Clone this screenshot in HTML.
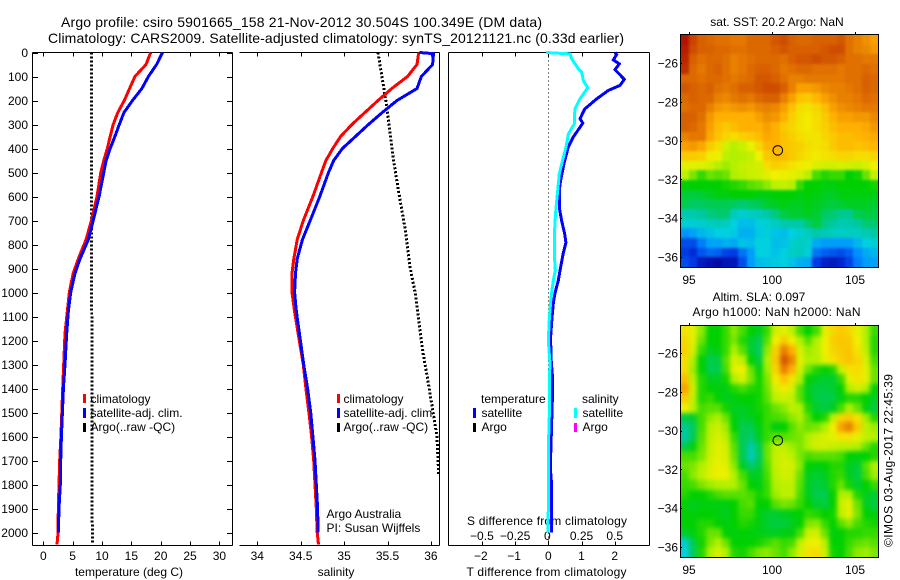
<!DOCTYPE html>
<html>
<head>
<meta charset="utf-8">
<title>Argo profile</title>
<style>
html,body{margin:0;padding:0;background:#fff;}
svg{display:block;font-family:"Liberation Sans",sans-serif;font-size:12px;fill:#000;}
</style>
</head>
<body>
<svg id="chart" width="900" height="580" viewBox="0 0 900 580" xmlns="http://www.w3.org/2000/svg">
<defs>
<filter id="blur-sst" x="-5%" y="-5%" width="110%" height="110%" color-interpolation-filters="sRGB"><feGaussianBlur stdDeviation="1.2"/></filter>
<filter id="blur-sla" x="-5%" y="-5%" width="110%" height="110%" color-interpolation-filters="sRGB"><feGaussianBlur stdDeviation="2.5"/></filter>
<clipPath id="clip-sst"><rect x="681" y="35" width="197" height="232"/></clipPath>
<clipPath id="clip-sla"><rect x="681" y="326" width="197" height="231"/></clipPath>
</defs>
<rect x="0" y="0" width="900" height="580" fill="#fff"/>
<text x="61" y="27" font-size="14" textLength="481">Argo profile: csiro 5901665_158 21-Nov-2012 30.504S 100.349E (DM data)</text>
<text x="48" y="43" font-size="14" textLength="576">Climatology: CARS2009. Satellite-adjusted climatology: synTS_20121121.nc (0.33d earlier)</text>
<text x="129" y="576" text-anchor="middle">temperature (deg C)</text>
<text x="336" y="576" text-anchor="middle">salinity</text>
<text x="466.5" y="576" textLength="160">T difference from climatology</text>
<text x="467" y="525" textLength="160">S difference from climatology</text>
<text x="326.5" y="518">Argo Australia</text>
<text x="326.5" y="532">PI: Susan Wijffels</text>
<text x="777" y="26" text-anchor="middle">sat. SST: 20.2 Argo: NaN</text>
<text x="759" y="301" text-anchor="middle">Altim. SLA: 0.097</text>
<text x="692.5" y="316" textLength="168">Argo h1000: NaN h2000: NaN</text>
<text transform="translate(892.5,547) rotate(-90)" textLength="173">©IMOS 03-Aug-2017 22:45:39</text>
</svg>
<script>
// ---- profile data ----
const depthLevels = [0,50,100,150,200,250,300,350,400,450,500,600,700,780,860,920,1000,1080,1170,1300,1400,1500,1600,1700,1800,1900,2000,2050];
const tempClim = [18.3,17.5,15.6,14.7,13.8,12.7,11.9,11.4,10.9,10.3,9.8,9.15,8.2,7.27,5.97,5.1,4.43,4.09,3.7,3.47,3.3,3.15,3.0,2.8,2.67,2.56,2.52,2.33];
const tempSat = [20.3,19.3,17.9,16.8,15.2,13.75,12.95,12.2,11.4,10.7,10.3,9.5,8.5,7.67,6.25,5.4,4.67,4.26,3.98,3.7,3.42,3.25,3.08,2.97,2.9,2.68,2.55];
const argoTempDepths = [0,500,1000,1500,2050];
const argoTemp = [8.2,8.2,8.25,8.3,8.35];
const salClim = [35.86,35.84,35.73,35.55,35.39,35.24,35.09,34.96,34.87,34.79,34.74,34.64,34.53,34.46,34.42,34.40,34.40,34.43,34.47,34.53,34.56,34.595,34.625,34.65,34.665,34.68,34.69,34.705];
const salSatDepths = [0,5,50,100,150,200,250,300,350,400,450,500,600,700,780,860,920,1000,1080,1170,1300,1400,1500,1600,1700,1800,1900,2000];
const salSat = [35.87,36.03,36.02,35.89,35.84,35.61,35.44,35.28,35.13,34.98,34.88,34.82,34.72,34.61,34.52,34.46,34.44,34.43,34.45,34.485,34.535,34.58,34.615,34.64,34.665,34.68,34.695,34.70];
const argoSalDepths = [0,200,450,575,729,895,1004,1158,1254,1354,1600,1760];
const argoSal = [35.39,35.48,35.57,35.625,35.70,35.76,35.82,35.875,35.91,35.96,36.07,36.09];
const tDiffDepths = [0,8,31,47,72,86,112,137,158,193,235,276,294,353,394,464,533,575,646,700,754,792,837,895,950,1004,1046,1104,1187,1271,1358,1450,1550,1730,1800,2000];
const tDiff = [2.01,2.06,1.96,2.14,2.01,2.11,2.29,2.16,1.81,1.46,1.10,0.955,1.04,0.75,0.60,0.47,0.37,0.33,0.33,0.40,0.49,0.53,0.45,0.37,0.30,0.20,0.15,0.11,0.07,0.08,0.13,0.12,0.10,0.06,0.10,0.10];
const sDiffDepths = [0,6,26,68,82,117,147,193,235,297,339,394,464,506,575,646,712,783,867,908,950,1021,1104,1200,1296,1358,1500,1600,1800,2000];
const sDiff = [-0.017,0.163,0.176,0.226,0.251,0.264,0.297,0.239,0.2,0.196,0.151,0.133,0.101,0.083,0.071,0.058,0.05,0.045,0.048,0.053,0.038,0.02,0.008,0,0.013,0.008,0.008,0.003,0.002,-0.002];

// ---- tick labels ----
const depthTicks = [0,100,200,300,400,500,600,700,800,900,1000,1100,1200,1300,1400,1500,1600,1700,1800,1900,2000];
const tempTicks = [0,5,10,15,20,25,30];
const salTicks = [34,34.5,35,35.5,36];
const tDiffTicks = [-2,-1,0,1,2];
const sDiffTicks = [-0.5,-0.25,0,0.25,0.5];
const latTicks = [-26,-28,-30,-32,-34,-36];
const lonTicks = [95,100,105];
const profileLon = [100.349];
const profileLat = [-30.504];

// ---- map colour scale, index 0..10 ----
const scaleColors = ['#00008c','#0030e0','#0090ff','#00d0e0','#00c8a0','#00d000','#b0f000','#f0f000','#ffb000','#d86000','#a80000'];

// ---- satellite SST map (colour-scale units) ----
const sstRows = [
[9.8,9.3,9,8.9,8.8,8.8,8.7,8.7,8.9,8.9,8.9,9.1,9.2,9,8.9,8.9,9,9,9,9.1,8.8,8.6,8.4,8.2],
[9.7,9.2,9,9,8.9,8.9,8.8,8.8,8.9,8.9,8.9,9,9.1,9,9,9,9,9.1,9.2,9.2,8.8,8.6,8.5,8.3],
[9.6,9,8.8,8.9,8.9,8.8,8.6,8.7,8.8,8.9,8.9,8.9,8.8,9,9.1,9.1,9.2,9.1,9.1,9,8.8,8.8,8.7,8.7],
[9.5,8.9,8.7,8.9,9,8.8,8.6,8.7,8.9,9,9,8.9,8.7,8.8,8.9,8.9,8.8,8.8,8.8,8.7,8.8,8.8,8.9,8.8],
[8.9,8.9,8.8,8.9,8.9,8.8,8.7,8.8,8.9,9.1,9.1,9,8.8,8.6,8.6,8.7,8.7,8.7,8.7,8.7,8.8,8.8,9,8.9],
[9.1,9,8.9,9,8.8,8.7,8.8,9,9,9.1,9.2,9.2,9,8.6,8.2,8.2,8.3,8.5,8.6,8.6,8.7,8.8,9,8.9],
[8.9,9,8.9,8.9,8.6,8.5,8.7,8.8,8.7,8.9,9,9,8.6,8.2,7.7,7.6,7.9,8.2,8.4,8.6,8.6,8.7,8.9,8.8],
[8.8,8.9,8.9,8.6,8.3,8.2,8.3,8.4,8.3,8.5,8.6,8.5,8.2,7.7,7.3,7.2,7.4,7.8,8.2,8.4,8.5,8.6,8.7,8.7],
[9,9,8.8,8.3,8,8,8,8,8,8.2,8.4,8.3,8,7.5,7.2,7.1,7.3,7.6,8,8.2,8.2,8.3,8.3,8.5],
[9,8.9,8.7,8.2,7.8,7.6,7.8,8,8,8,8.2,8,7.6,7.4,7.2,7.1,7.3,7.5,7.8,8,8,8,8.1,8.3],
[8.6,8.7,8.7,8.1,7.7,7.4,7.3,7.5,7.6,7.8,8.1,8,7.7,7.5,7.3,7.2,7.2,7.4,7.6,7.8,7.8,7.9,8,8.1],
[8.2,8.3,8.1,7.6,7.3,6.5,6.1,6.4,6.9,7.4,7.9,8,7.7,7.6,7.5,7.3,7.2,7.3,7.6,7.8,7.8,7.7,7.8,7.9],
[7.6,7.6,7.5,7.1,6.9,6.2,6,6.1,6.3,7,7.6,7.8,7.8,7.6,7.4,7.2,7.1,7.2,7.3,7.4,7.4,7.3,7.3,7.4],
[6.8,6.8,6.7,6.5,6.1,5.9,6.1,6.3,6.4,6.5,7.3,7.5,7.4,7.2,7.1,6.9,6.6,6.5,6.5,6.6,6.5,6.4,6.6,7],
[6.2,5.7,5.3,5.6,5.5,5.6,6,6.2,6.4,6.5,6.7,7,6.9,6.8,6.6,6.1,5.4,5.2,5.3,5.3,5,5.1,5.6,6.3],
[5,5,5,5,5,5.1,5.2,5.3,5.5,5.6,5.8,6.2,6.3,6.1,5.3,5,5,4.9,4.9,5,5,5,5,5.1],
[4.7,4.6,4.7,4.8,4.9,4.9,5,5,5,4.9,4.9,5,5,5,4.9,5,4.9,4.8,4.8,4.9,4.9,4.9,4.9,4.9],
[4.5,4.4,4.4,4.5,4.5,4.5,4.4,4.3,4.4,4.5,4.7,4.8,4.9,4.8,4.8,4.9,4.8,4.7,4.6,4.7,4.8,4.8,4.8,4.7],
[3.8,3.8,4,4.2,4.3,4.3,3.6,3.3,3.5,3.6,3.9,4.2,4.6,4.7,4.7,4.8,4.7,4.4,4.3,4.1,4.1,4.5,4.6,4.6],
[3.2,3.2,3.3,3.5,3.6,3.5,3,2.7,2.7,3.1,3.2,3.5,3.8,3.9,3.9,4.3,4.6,4.2,4,3.7,3.8,4,4.3,4.3],
[2.1,2.3,2.6,2.8,3,3,2.9,2.5,2.5,2.9,3.1,2.8,2.7,3,3.3,3.5,3.9,3.7,3.5,3.4,3.5,3.5,3.7,3.9],
[1.3,1.3,1.8,2.3,2.3,2.5,2.4,2.8,2.7,3,3,2.7,2.8,3.2,3.5,3.3,2.4,2.2,2.2,2.2,2.2,2.6,3,3.2],
[1.1,0.9,1.4,1.6,1.5,1.2,1.1,1.7,2.2,3,3,2.8,3,3.4,3.6,3.1,1.7,1.5,1.4,1.3,1.5,2,2.4,2.6],
[1.3,1.1,0.6,0.4,0.3,0.5,0.5,1.3,2.2,2.7,2.8,2.9,3,2.8,2.5,2.4,1.1,0.7,0.6,0.8,1.2,1.8,2.2,2.3]
];

// ---- altimetry SLA map (colour-scale units) ----
const slaRows = [
[7.2,6.8,5.8,5,5,5.3,5.8,5.4,5,4.8,5.3,6.5,6.8,6.2,5.4,5,5.4,6.8,7.4,7.6,7.4,6.8,6,5.3],
[7.4,6.8,5.6,5,5,5.3,5.7,5.2,4.7,4.5,5.5,7,7.6,7,6,5.5,6,7,7.5,7.7,7.6,7,6,5.2],
[7.5,6.6,5.3,4.8,4.9,5.3,6,5.5,4.7,4.4,5.8,7.5,8.6,8,6.6,5.9,6.1,7,7.4,7.6,7.7,7.2,6.2,5.2],
[7.3,6,5,4.5,4.6,5.5,6.6,6.2,5,4.6,6,7.6,9.1,8.5,6.8,6,6.1,6.8,7.2,7.5,7.7,7.4,6.6,5.4],
[7.3,5.9,5,4.5,4.5,5.4,6.8,7,5.6,4.9,5.9,7.4,8.6,8,6.5,5.6,5.2,5,5.2,6.4,7.2,7.3,6.8,5.6],
[7.8,6.2,5.2,4.8,4.8,5.1,6,6.6,5.7,5.1,5.7,7.1,7.7,7.2,6,5,4.8,4.7,4.7,5.3,6.8,7.2,6.8,5.6],
[8.2,6.5,5.2,5,4.9,4.9,5.2,5.4,5.2,5.1,5.6,6.6,7.1,6.6,5.5,4.8,4.6,4.6,4.7,5,6,6.5,6,5],
[7.6,6.3,5.2,5.3,5,4.8,4.9,5,5,5.1,5.5,6.2,6.4,6.3,5.5,4.9,4.6,4.5,4.6,4.9,5.2,5.2,5,4.8],
[7,6.2,5.4,5.5,5.5,5.1,4.8,4.8,4.9,5.1,5.3,5.6,5.8,6.2,6,5.2,4.7,4.6,4.8,5.4,6,5.6,4.9,4.6],
[4.6,4.7,5.4,5.8,6,5.6,4.9,4.7,4.8,5,5.3,5.4,5.5,5.8,6,5.5,5,5.2,6.2,7.4,7.6,7.2,5.9,5.2],
[4.1,4.4,5.4,6.1,6.4,5.9,5,4.5,4.5,4.9,5.3,4.9,5,5.5,5.8,5.6,5.7,6,7,8.2,8.6,7.6,6.2,5.9],
[4,4.5,5.5,6.2,6.6,6.2,5.3,4.5,4.3,4.8,5.3,5.5,5.5,5.6,5.7,6,6.4,6.6,6.8,7.2,7.2,6.8,6.3,6],
[4.5,4.9,5.6,6.3,6.8,6.5,5.5,4.5,3.8,4.5,5.6,6.2,6.2,5.9,5.7,6,6.5,6.5,6.3,6.2,6.2,6,5.6,5.2],
[5.4,5.4,5.7,6.4,6.8,6.6,5.6,4.5,3.6,4.4,5.6,6.3,6.5,6.2,5.7,5.4,5.5,5.5,5.5,5.4,5,4.9,5,5.2],
[5.6,5.7,6,6.6,6.9,6.8,5.8,4.8,4.3,4.6,5.5,6.3,6.6,6.5,5.8,5,4.9,5,5.2,5.2,4.8,4.7,5.5,6],
[5.4,5.8,6.2,6.7,6.9,6.9,6.1,5.4,4.8,4.8,5.4,6.2,6.5,6.4,5.6,4.8,4.7,4.8,5.2,5.3,4.8,4.6,5.4,5.9],
[5.3,5.4,5.7,5.9,6,6.1,6,5.6,5,4.9,5.3,6,6.2,6.2,5.5,4.8,4.6,4.7,5.2,5.6,5.1,4.7,5,5.3],
[5.2,5,5,5.2,5.4,5.5,5.5,5.5,5.4,5.1,5.3,5.9,6.2,6.2,5.4,4.8,4.5,4.5,5,6,6,5.2,4.8,4.7],
[5,4.8,4.9,4.9,4.9,4.9,5,5.4,5.5,5,5,5.5,5.7,5.6,5.3,5,4.7,4.6,5,6.4,6.8,5.6,4.8,4.6],
[5,4.9,5,5,4.9,4.8,5,5.3,5.3,4.9,4.7,4.7,4.8,4.9,5,5.3,5.2,5,5.1,6.2,6.8,5.7,5,4.9],
[5,5,5.2,5.2,5,4.9,5,5.2,5.1,4.9,4.7,4.6,4.6,4.8,5,5.7,5.8,5.3,5,5.5,5.8,5.4,5.2,5.1],
[4.7,4.9,5.2,5.6,5.6,5,4.9,5,4.9,4.9,4.8,4.8,4.9,4.9,5.4,6.4,6.5,5.6,4.9,5,5.2,5.2,5.3,5.3],
[3.3,4.5,5.1,5.7,6.1,5.6,5,5,5,5.1,5.3,5.5,5.3,5.4,6.2,6.9,7,6.1,5,5,5.3,5.5,5.6,5.5],
[3.1,4.4,5.2,6,6.6,6,5.2,5.1,5.4,5.7,5.8,5.6,5.4,5.8,6.6,7.2,7.3,6.4,5.1,5,5.4,5.8,5.9,5.7]
];

// ---- axis functions ----
const svg = document.getElementById('chart');
const NS = 'http://www.w3.org/2000/svg';
function mk(tag, attrs, parent){
  const el = document.createElementNS(NS, tag);
  for (const k in attrs) el.setAttribute(k, attrs[k]);
  (parent || svg).appendChild(el);
  return el;
}
const TOP = 52.5, BOTTOM = 545.5;
const yDepth = d => TOP + d * 0.24;
const xTemp = t => 43.3 + t * 5.87;
const xSal = s => 257.3 + (s - 34) * 86.8;
const xTDiff = t => 548.3 + t * 33.2;
const xSDiff = s => 548.3 + s * 132.8;

function seg(x1, y1, x2, y2, name){
  const el = mk('line', {x1:x1, y1:y1, x2:x2, y2:y2, stroke:'#000', 'stroke-width':1, 'shape-rendering':'crispEdges'});
  
  
  return el;
}
function label(x, y, txt, anchor, name){
  const el = mk('text', {x:x, y:y, 'text-anchor':anchor});
  el.textContent = txt;
  
  
  return el;
}
function profile(xFn, depths, values, color, width, dash, name){
  const pts = values.map((v, i) => xFn(v).toFixed(1) + ',' + yDepth(depths[i]).toFixed(1)).join(' ');
  const attrs = {points:pts, fill:'none', stroke:color, 'stroke-width':width, 'shape-rendering':'crispEdges'};
  if (dash) attrs['stroke-dasharray'] = dash;
  const el = mk('polyline', attrs);
  
  
  return el;
}
function legendBar(x, y, h, color, name){
  const el = mk('rect', {x:x, y:y, width:3, height:h, fill:color, 'shape-rendering':'crispEdges'});
  
  
  return el;
}

// ---- panel frames ----
seg(32.5, TOP, 232.5, TOP, 'temperature-panel-top');
seg(32.5, BOTTOM, 232.5, BOTTOM, 'temperature-panel-bottom');
seg(32.5, TOP, 32.5, BOTTOM, 'temperature-panel-left');
seg(232.5, TOP, 232.5, BOTTOM, 'temperature-panel-right');
seg(239.5, TOP, 439.5, TOP, 'salinity-panel-top');
seg(239.5, BOTTOM, 439.5, BOTTOM, 'salinity-panel-bottom');
seg(439.5, TOP, 439.5, BOTTOM, 'salinity-panel-right');
seg(448.5, TOP, 649.5, TOP, 'difference-panel-top');
seg(448.5, BOTTOM, 649.5, BOTTOM, 'difference-panel-bottom');
seg(448.5, TOP, 448.5, BOTTOM, 'difference-panel-left');
seg(649.5, TOP, 649.5, BOTTOM, 'difference-panel-right');

// ---- ticks ----
depthTicks.forEach(d => {
  const y = Math.round(yDepth(d)) + 0.5;
  seg(32.5, y, 38, y, 'depth-tick-left');
  seg(227, y, 232.5, y, 'depth-tick-right');
  label(28, yDepth(d) + 4.5, String(d), 'end', 'depth-tick-label');
});
tempTicks.forEach(t => {
  const x = Math.round(xTemp(t)) + 0.5;
  seg(x, TOP, x, TOP + 4, 'temperature-tick-top');
  seg(x, BOTTOM, x, BOTTOM - 4, 'temperature-tick-bottom');
  label(xTemp(t), 560, String(t), 'middle', 'temperature-tick-label');
});
salTicks.forEach(s => {
  const x = Math.round(xSal(s)) + 0.5;
  seg(x, TOP, x, TOP + 4, 'salinity-tick-top');
  seg(x, BOTTOM, x, BOTTOM - 4, 'salinity-tick-bottom');
  label(xSal(s), 560, String(s), 'middle', 'salinity-tick-label');
});
tDiffTicks.forEach(t => {
  const x = Math.round(xTDiff(t)) + 0.5;
  seg(x, TOP, x, TOP + 4, 'difference-tick-top');
  seg(x, BOTTOM, x, BOTTOM - 4, 'difference-tick-bottom');
  label(xTDiff(t) - (t < 0 ? 1 : 0), 560, String(t).replace('-', '\u2212'), 'middle', 't-difference-tick-label');
});
sDiffTicks.forEach(s => {
  label(xSDiff(s) - (s === 0 ? 1 : 0), 540, String(s).replace('-', '\u2212'), 'middle', 's-difference-tick-label');
});

// ---- zero reference line ----
const zero = mk('line', {x1:xTDiff(0), y1:TOP, x2:xTDiff(0), y2:BOTTOM, stroke:'#000', 'stroke-width':1, 'stroke-dasharray':'1 3', 'shape-rendering':'crispEdges'});



// ---- profile series ----
profile(xTemp, argoTempDepths, argoTemp, '#000', 3, '2 2', 'argo-temperature-line');
profile(xTemp, depthLevels, tempClim, '#ff0000', 3, null, 'climatology-temperature-line');
profile(xTemp, depthLevels, tempSat, '#0000ff', 3, null, 'satellite-temperature-line');
profile(xSal, argoSalDepths, argoSal, '#000', 3, '2 2', 'argo-salinity-line');
profile(xSal, depthLevels, salClim, '#ff0000', 3, null, 'climatology-salinity-line');
profile(xSal, salSatDepths, salSat, '#0000ff', 3, null, 'satellite-salinity-line');
profile(xTDiff, tDiffDepths, tDiff, '#0000ff', 3, null, 'temperature-difference-line');
profile(xSDiff, sDiffDepths, sDiff, '#00ffff', 3, null, 'salinity-difference-line');

// ---- legends ----
legendBar(83, 394, 9, '#ff0000', 'legend-marker-climatology');
legendBar(83, 408, 10, '#0000ff', 'legend-marker-satellite');
legendBar(83, 423, 9, '#000', 'legend-marker-argo');
label(90.5, 403, 'climatology', 'start', 'legend-label-climatology');
label(90.5, 417, 'satellite-adj. clim.', 'start', 'legend-label-satellite');
label(90.5, 431, 'Argo(..raw -QC)', 'start', 'legend-label-argo');
legendBar(337, 394, 9, '#ff0000', 'legend-marker-climatology');
legendBar(337, 408, 10, '#0000ff', 'legend-marker-satellite');
legendBar(337, 423, 9, '#000', 'legend-marker-argo');
label(343.5, 403, 'climatology', 'start', 'legend-label-climatology');
label(343.5, 417, 'satellite-adj. clim.', 'start', 'legend-label-satellite');
label(343.5, 431, 'Argo(..raw -QC)', 'start', 'legend-label-argo');
label(481, 403, 'temperature', 'start', 'legend-heading-temperature');
legendBar(473, 408, 10, '#0000ff', 'legend-marker-t-satellite');
legendBar(473, 423, 9, '#000', 'legend-marker-t-argo');
label(481.5, 417, 'satellite', 'start', 'legend-label-t-satellite');
label(481.5, 431, 'Argo', 'start', 'legend-label-t-argo');
label(582, 403, 'salinity', 'start', 'legend-heading-salinity');
legendBar(574, 408, 10, '#00ffff', 'legend-marker-s-satellite');
legendBar(574, 423, 9, '#ff00ff', 'legend-marker-s-argo');
label(582.5, 417, 'satellite', 'start', 'legend-label-s-satellite');
label(582.5, 431, 'Argo', 'start', 'legend-label-s-argo');

// ---- maps ----
function scaleColor(v){
  const c = Math.max(0, Math.min(10, v));
  const i = Math.min(9, Math.floor(c));
  const f = c - i;
  const a = scaleColors[i], b = scaleColors[i + 1];
  const part = p => {
    const pa = parseInt(a.substr(p, 2), 16), pb = parseInt(b.substr(p, 2), 16);
    return Math.round(pa + (pb - pa) * f);
  };
  return 'rgb(' + part(1) + ',' + part(3) + ',' + part(5) + ')';
}
function drawMap(rows, left, right, top, bottom, yOfLat26, labelY, name, clipId, blurId){
  const xLon = lon => 689 + (lon - 95) * 16.6;
  const yLat = lat => yOfLat26 + (-26 - lat) * 19.4;
  const nr = rows.length, nc = rows[0].length;
  const cw = (right - left) / nc, ch = (bottom - top) / nr;
  const pad = 14;
  const clipGroup = mk('g', {'clip-path':'url(#' + clipId + ')'});
  
  
  const blurGroup = mk('g', {filter:'url(#' + blurId + ')'}, clipGroup);
  
  
  rows.forEach((row, r) => row.forEach((v, c) => {
    // edge cells extend past the frame so smoothing does not fade at the clip edge
    const x0 = c === 0 ? left - pad : Math.round(left + c * cw);
    const x1 = c === nc - 1 ? right + pad : Math.round(left + (c + 1) * cw);
    const y0 = r === 0 ? top - pad : Math.round(top + r * ch);
    const y1 = r === nr - 1 ? bottom + pad : Math.round(top + (r + 1) * ch);
    const cell = mk('rect', {x:x0, y:y0, width:x1 - x0, height:y1 - y0, fill:scaleColor(v), 'shape-rendering':'crispEdges'}, blurGroup);
    
    
  }));
  const frame = mk('rect', {x:left - 0.5, y:top - 0.5, width:right - left + 1, height:bottom - top + 1, fill:'none', stroke:'#000', 'stroke-width':1, 'shape-rendering':'crispEdges'});
  
  
  latTicks.forEach(lat => {
    const y = Math.round(yLat(lat)) + 0.5;
    seg(right, y, right + 1, y, name + '-lat-tick-right');
    seg(left - 0.5, y, left + 1, y, name + '-lat-tick-left');
    label(678, yLat(lat) + 4.5, String(lat).replace('-', '\u2212'), 'end', name + '-lat-label');
  });
  lonTicks.forEach(lon => {
    const x = Math.round(xLon(lon)) + 0.5;
    seg(x, top - 1, x, top - 3, name + '-lon-tick-top');
    label(xLon(lon), labelY, String(lon), 'middle', name + '-lon-label');
  });
  const mark = mk('circle', {cx:xLon(profileLon[0]), cy:yLat(profileLat[0]), r:4.8, fill:'none', stroke:'#000', 'stroke-width':1});
  
  
}
drawMap(sstRows, 681, 878, 35, 267, 63, 284, 'sst-map', 'clip-sst', 'blur-sst');
drawMap(slaRows, 681, 878, 326, 557, 353, 574, 'sla-map', 'clip-sla', 'blur-sla');
</script>
</body>
</html>
